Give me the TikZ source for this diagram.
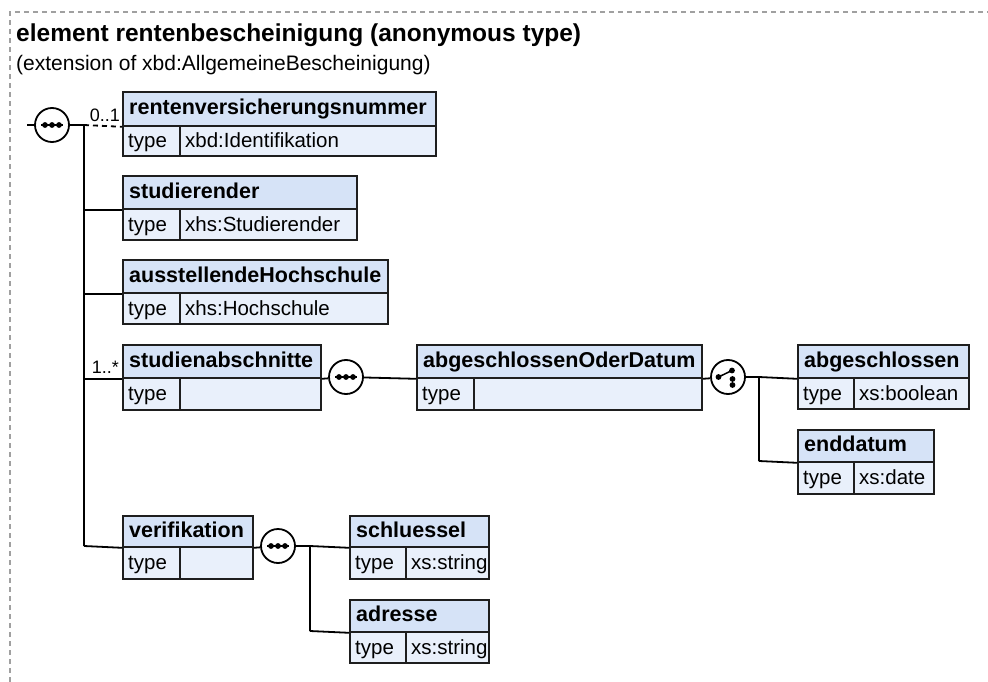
\documentclass[tikz,border=0pt]{standalone}
\usepackage{fontspec}
\setmainfont{Liberation Sans}
\definecolor{hdrfill}{RGB}{214,227,247}
\definecolor{rowfill}{RGB}{233,240,251}
\definecolor{bord}{RGB}{30,30,30}
\definecolor{framegray}{RGB}{160,160,160}
\newcommand\xsdbox[9]{%
 \pgfmathsetmacro\bxw{#6-#2}\pgfmathsetmacro\bxa{#4-#3}\pgfmathsetmacro\bxb{#5-#4}%
 \pgfmathsetmacro\bxd{#7-#2}\pgfmathsetmacro\bxe{#6-#7}%
 \node[hdr, minimum width=\bxw pt, minimum height=\bxa pt, label={[namelbl]west:#8}] (#1h) at (#2,#3) {};
 \node[rowcell, minimum width=\bxd pt, minimum height=\bxb pt, label={[typelbl]west:type}] (#1t) at (#2,#4) {};
 \node[rowcell, minimum width=\bxe pt, minimum height=\bxb pt, label={[typelbl]west:#9}] (#1v) at (#7,#4) {};
}
\newcommand\seqsym[1]{%
 \draw[line width=1.5pt] ([xshift=-11pt]#1.center) -- ([xshift=11pt]#1.center);
 \foreach \dx in {-7,0,7} {\fill ([xshift=\dx pt]#1.center) circle[radius=2.9pt];}
}
\newcommand\choicesym[1]{%
 \draw[line width=1.5pt] ([xshift=-9.5pt]#1.center) -- ([xshift=4pt,yshift=6.5pt]#1.center);
 \fill ([xshift=-9.5pt]#1.center) circle[radius=2.9pt];
 \fill ([xshift=4pt,yshift=6.5pt]#1.center) circle[radius=2.9pt];
 \fill ([xshift=4.5pt,yshift=-2pt]#1.center) circle[radius=2.9pt];
 \fill ([xshift=4.5pt,yshift=-8pt]#1.center) circle[radius=2.9pt];
}
\begin{document}
\begin{tikzpicture}[x=1pt,y=-1pt,
  hdr/.style={draw=bord, fill=hdrfill, line width=1.8pt, anchor=north west, inner sep=0pt},
  rowcell/.style={draw=bord, fill=rowfill, line width=1.8pt, anchor=north west, inner sep=0pt},
  namelbl/.style={anchor=base west, inner sep=0pt, xshift=7pt, yshift=-6pt, font=\fontsize{21.5}{25}\selectfont\bfseries},
  typelbl/.style={anchor=base west, inner sep=0pt, xshift=6pt, yshift=-7pt, font=\fontsize{20.5}{25}\selectfont},
  conn/.style={draw=black, line width=1.8pt},
  mult/.style={anchor=base east, inner sep=0pt, font=\fontsize{18}{20}\selectfont},
  symcirc/.style={circle, draw=black, fill=white, line width=1.8pt, minimum size=34pt, inner sep=0pt},
  framestyle/.style={draw=framegray, line width=1.2pt, dash pattern=on 5pt off 4pt}
]
\useasboundingbox (0,0) rectangle (988,682);
\draw[framestyle] (10,682) -- (10,12) -- (988,12);
\node[anchor=base west, inner sep=0pt, font=\fontsize{24.5}{29}\selectfont\bfseries] (title) at (16,42) {element rentenbescheinigung (anonymous type)};
\node[anchor=base west, inner sep=0pt, font=\fontsize{21}{25}\selectfont] (subtitle) at (16,71) {(extension of xbd:AllgemeineBescheinigung)};

\xsdbox{b1}{122}{91}{125}{155}{435}{179}{rentenversicherungsnummer}{xbd:Identifikation}
\xsdbox{b2}{122}{175}{208}{239}{356}{179}{studierender}{xhs:Studierender}
\xsdbox{b3}{122}{259}{292}{323}{387}{179}{ausstellendeHochschule}{xhs:Hochschule}
\xsdbox{b4}{122}{344}{377}{409}{320}{179}{studienabschnitte}{}
\xsdbox{b5}{416}{344}{377}{409}{701}{473}{abgeschlossenOderDatum}{}
\xsdbox{b6}{797}{344}{377}{408}{968}{853}{abgeschlossen}{xs:boolean}
\xsdbox{b7}{797}{429}{461}{493}{933}{853}{enddatum}{xs:date}
\xsdbox{b8}{122}{515}{546}{578}{252}{179}{verifikation}{}
\xsdbox{b9}{349}{515}{546}{578}{488}{405}{schluessel}{xs:string}
\xsdbox{b10}{349}{599}{631}{662}{488}{405}{adresse}{xs:string}

\coordinate (s0) at (27,125);
\coordinate (v0t) at (84,125);
\coordinate (v0b) at (84,546);
\coordinate (v2t) at (759,377);
\coordinate (v2b) at (759,461);
\coordinate (v3t) at (310,546);
\coordinate (v3b) at (310,631);

\node[symcirc] (c0) at (52,125) {};
\node[symcirc] (c1) at (346,377) {};
\node[symcirc] (c2) at (728,377) {};
\node[symcirc] (c3) at (278,546) {};
\seqsym{c0}
\seqsym{c1}
\choicesym{c2}
\seqsym{c3}

\draw[conn] (s0) -- (c0);
\draw[conn] (c0) -- (v0t) -- (v0b);
\draw[conn, dash pattern=on 5pt off 4pt] (v0t) -- (b1h.south west);
\draw[conn] (b2h.south west -| v0t) -- (b2h.south west);
\draw[conn] (b3h.south west -| v0t) -- (b3h.south west);
\draw[conn] (b4h.south west -| v0t) -- (b4h.south west);
\draw[conn] (v0b) -- (b8h.south west);
\draw[conn] (b4h.south east) -- (c1) -- (b5h.south west);
\draw[conn] (b5h.south east) -- (c2) -- (v2t) -- (v2b);
\draw[conn] (v2t) -- (b6h.south west);
\draw[conn] (v2b) -- (b7h.south west);
\draw[conn] (b8h.south east) -- (c3) -- (v3t) -- (v3b);
\draw[conn] (v3t) -- (b9h.south west);
\draw[conn] (v3b) -- (b10h.south west);

\node[mult] (m1) at (120,122) {0..1};
\node[mult] (m4) at (119,373) {1..*};
\end{tikzpicture}
\end{document}
